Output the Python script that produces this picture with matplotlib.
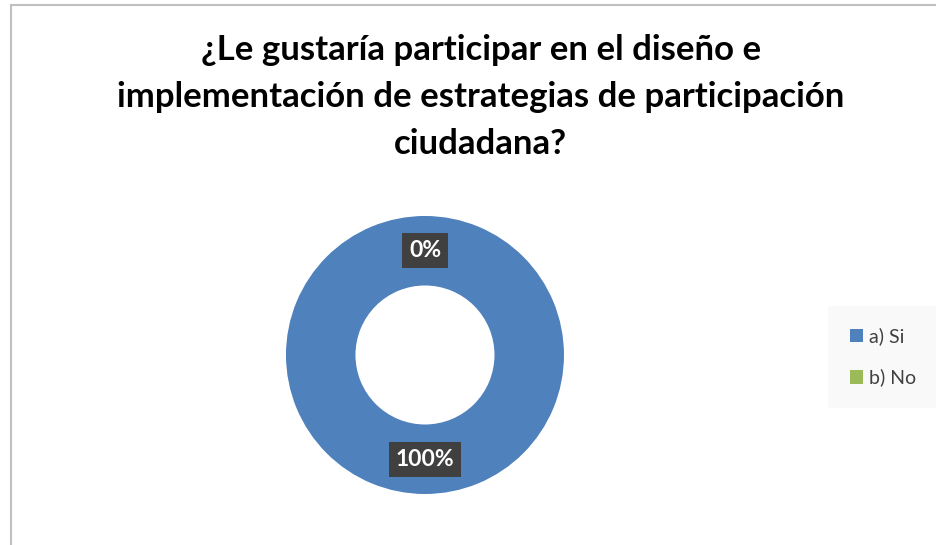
import matplotlib
matplotlib.use('Agg')
import matplotlib.pyplot as plt
from matplotlib.lines import Line2D

plt.rcParams['font.family'] = ['Lato', 'DejaVu Sans']

title = '¿Le gustaría participar en el diseño e\nimplementación de estrategias de participación\nciudadana?'
labels = ['a) Si', 'b) No']
values = [100, 0]
colors = ['#4F81BD', '#9BBB59']

fig = plt.figure(figsize=(9.37, 5.45), dpi=100)
fig.patch.set_facecolor('white')

ax = fig.add_axes([0.3052, 0.0936, 0.2967, 0.5101])
wedges, texts, autotexts = ax.pie(values, colors=colors, startangle=90, counterclock=False,
                                  radius=1, autopct='%1.0f%%', pctdistance=0.75,
                                  wedgeprops=dict(width=0.5, edgecolor='none'),
                                  textprops=dict(color='white', fontsize=16.5, fontweight='bold'))
for t in autotexts:
    t.set_bbox(dict(boxstyle='square,pad=0.3', facecolor='#404040', edgecolor='none'))
ax.set_xlim(-1, 1)
ax.set_ylim(-1, 1)
ax.set_aspect('equal')

fig.text(0.513, 0.822, title, ha='center', va='center', fontsize=25, fontweight='bold',
         linespacing=1.57, color='black')

leg = fig.legend(wedges, labels, loc='center left', bbox_to_anchor=(0.88, 0.345),
                 frameon=True, fontsize=14, handlelength=0.7, handleheight=0.7,
                 handletextpad=0.3, labelspacing=1.2, borderpad=0.8)
leg.get_frame().set_facecolor('#f8f8f8')
leg.get_frame().set_edgecolor('none')
leg.get_frame().set_boxstyle('square')
for t in leg.get_texts():
    t.set_color('#404040')

# chart frame (left and top edges)
fig.add_artist(Line2D([11 / 937, 11 / 937], [0, 1 - 5 / 545], color='#c0c0c0', lw=1.5))
fig.add_artist(Line2D([11 / 937, 1], [1 - 5 / 545, 1 - 5 / 545], color='#c0c0c0', lw=1.5))

fig.savefig('out.png', dpi=100)
